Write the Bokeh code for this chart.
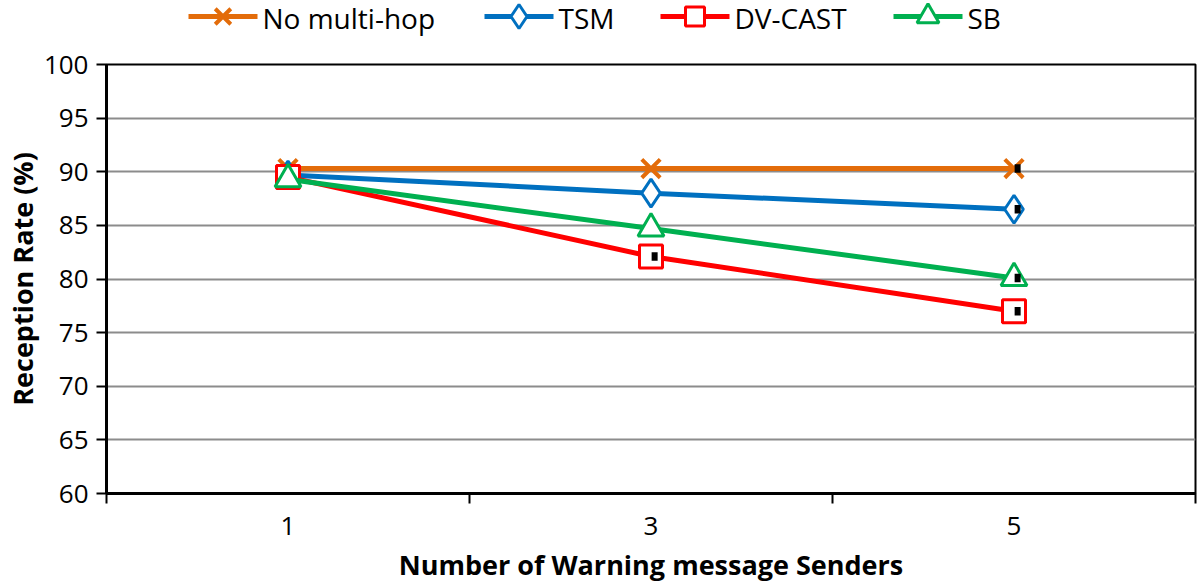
from bokeh.plotting import figure
from bokeh.models import FixedTicker, Range1d
from bokeh.layouts import column
from bokeh.core.properties import value
from bokeh.embed import file_html
from bokeh.resources import INLINE

senders = ["1", "3", "5"]
series_names = ["No multi-hop", "TSM", "DV-CAST", "SB"]
no_multihop = [90.3, 90.3, 90.3]
tsm = [89.7, 88.0, 86.5]
dvcast = [89.5, 82.1, 77.0]
sb = [89.3, 84.7, 80.1]
err_no = [0.0, 0.0, 0.4]
err_tsm = [0.0, 0.0, 0.4]
err_dv = [0.0, 0.4, 0.4]
err_sb = [0.0, 0.0, 0.4]

FONT = "Open Sans"
colors = ["#E36C0A", "#0070C0", "#FF0000", "#00B050"]
markers = ["x", "diamond", "square", "triangle"]
sizes = {"x": 26, "diamond": 28, "square": 23, "triangle": 26}
leg_sizes = {"x": 22, "diamond": 24, "square": 19, "triangle": 22}
# legend layout (pixel positions of each entry's glyph start, in page pixels)
leg_x0 = [188, 484, 660, 893]
leg_w = 69
leg_y = 16

xs = [i + 0.5 for i in range(len(senders))]

W, LH = 1200, 40
BL, BR = 106, 5

# ---- legend strip (x range mapped 1:1 onto page pixels) ----
leg = figure(width=W, height=LH, output_backend="svg", toolbar_location=None,
             x_range=Range1d(BL, W - BR), y_range=Range1d(LH, 0),
             min_border_left=BL, min_border_right=BR, min_border_top=0, min_border_bottom=0)
leg.axis.visible = False
leg.grid.visible = False
leg.outline_line_color = None
leg.background_fill_color = "white"
leg.border_fill_color = "white"
for name, c, m, x0 in zip(series_names, colors, markers, leg_x0):
    leg.line([x0, x0 + leg_w], [leg_y, leg_y], line_color=c, line_width=5)
    leg.scatter([x0 + leg_w / 2], [leg_y], marker=m, size=leg_sizes[m], line_color=c,
                fill_color="white", line_width=3 if m != "x" else 4)
    leg.text([x0 + leg_w + 5], [leg_y + 1], text=[name], text_font=value(FONT),
             text_font_size="28px", text_baseline="middle", text_align="left",
             text_color="black")

# ---- main plot ----
p = figure(width=W, height=585 - LH, output_backend="svg", toolbar_location=None,
           x_range=Range1d(0, len(senders)), y_range=Range1d(60, 100),
           min_border_left=BL, min_border_right=BR, min_border_top=24, min_border_bottom=92)
p.background_fill_color = "white"
p.border_fill_color = "white"
p.outline_line_color = "black"
p.outline_line_width = 2

p.xgrid.visible = False
p.ygrid.grid_line_color = "#8c8c8c"
p.ygrid.grid_line_width = 2

p.xaxis.ticker = FixedTicker(ticks=xs, minor_ticks=list(range(len(senders) + 1)))
p.xaxis.major_label_overrides = {x: s for x, s in zip(xs, senders)}
p.xaxis.major_tick_line_color = None
p.xaxis.minor_tick_line_color = "black"
p.xaxis.minor_tick_line_width = 2
p.xaxis.minor_tick_out = 10
p.xaxis.minor_tick_in = 0
p.xaxis.major_label_standoff = 13

p.yaxis.ticker = FixedTicker(ticks=list(range(60, 101, 5)))
p.yaxis.minor_tick_line_color = None
p.yaxis.major_tick_out = 10
p.yaxis.major_tick_in = 0
p.yaxis.major_tick_line_width = 2
p.yaxis.major_label_standoff = 8

for ax in (p.xaxis[0], p.yaxis[0]):
    ax.axis_line_color = "black"
    ax.axis_line_width = 3
    ax.major_label_text_font = FONT
    ax.major_label_text_font_size = "26px"
    ax.major_label_text_color = "black"
    ax.axis_label_text_font = FONT
    ax.axis_label_text_font_size = "27px"
    ax.axis_label_text_font_style = "bold"
    ax.axis_label_text_color = "black"

p.xaxis.axis_label = "Number of Warning message Senders"
p.yaxis.axis_label = "Reception Rate (%)"
p.xaxis.axis_label_standoff = 8
p.yaxis.axis_label_standoff = 0

all_vals = [no_multihop, tsm, dvcast, sb]
all_errs = [err_no, err_tsm, err_dv, err_sb]
for vals, errs, c, m in zip(all_vals, all_errs, colors, markers):
    p.line(xs, vals, line_color=c, line_width=5)
    p.scatter(xs, vals, marker=m, size=sizes[m], line_color=c,
              fill_color="white", line_width=3 if m != "x" else 4)
    ex = [x for x, e in zip(xs, errs) if e > 0]
    ey0 = [v - e for v, e in zip(vals, errs) if e > 0]
    ey1 = [v + e for v, e in zip(vals, errs) if e > 0]
    p.segment(x0=[x + 0.01 for x in ex], y0=ey0, x1=[x + 0.01 for x in ex], y1=ey1,
              line_color="black", line_width=6)

layout = column(leg, p, spacing=0)
open("out.html", "w").write(file_html(layout, INLINE))
